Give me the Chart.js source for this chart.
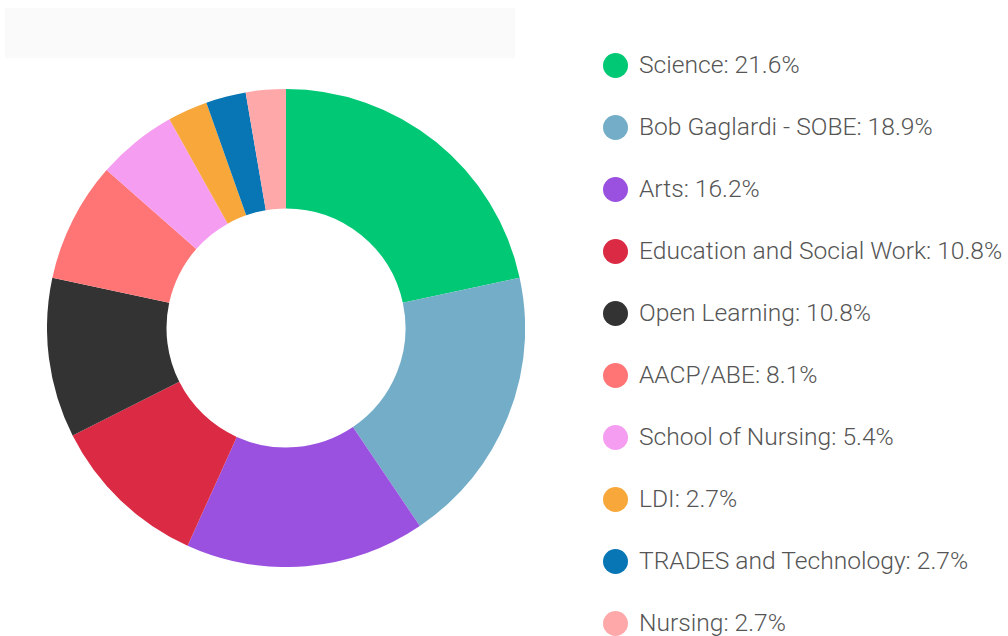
<!DOCTYPE html>
<html>
<head>
<meta charset="utf-8">
<script src="https://cdn.jsdelivr.net/npm/chart.js@4/dist/chart.umd.min.js"></script>
<style>
  html, body { margin: 0; padding: 0; background: #ffffff; width: 1008px; height: 636px; overflow: hidden; }
  #band { position: absolute; left: 5px; top: 8px; width: 510px; height: 50px; background: #fafafa; }
  #wrap { position: absolute; left: 47px; top: 89px; width: 478px; height: 478px; }
  #legend { position: absolute; left: 603px; top: 0; width: 405px; height: 636px; font-family: Roboto, "Noto Sans", sans-serif; }
  .item { position: absolute; left: 0; height: 28px; display: flex; align-items: center; white-space: nowrap; }
  .dot { width: 25px; height: 25px; border-radius: 50%; margin-right: 11px; flex: none; }
  .txt { font-size: 24.6px; color: #555555; font-weight: 300; line-height: 28px; }
</style>
</head>
<body>
<div id="band"></div>
<div id="wrap"><canvas id="c" width="478" height="478"></canvas></div>
<div id="legend"></div>
<script>
const categories = ["Science", "Bob Gaglardi - SOBE", "Arts", "Education and Social Work", "Open Learning", "AACP/ABE", "School of Nursing", "LDI", "TRADES and Technology", "Nursing"];
const shares = [21.6, 18.9, 16.2, 10.8, 10.8, 8.1, 5.4, 2.7, 2.7, 2.7];
const colors = ["#00c875", "#74adc8", "#9b51e0", "#db2a44", "#333333", "#ff7575", "#f59df0", "#f8a73b", "#0876b5", "#ffa8aa"];

const chart = new Chart(document.getElementById("c"), {
  type: "doughnut",
  data: {
    labels: categories,
    datasets: [{ data: shares, backgroundColor: colors, borderWidth: 0, hoverOffset: 0 }]
  },
  options: {
    responsive: false,
    animation: false,
    cutout: "50%",
    layout: { padding: 0 },
    plugins: { legend: { display: false }, tooltip: { enabled: false } }
  }
});

const legend = document.getElementById("legend");
categories.forEach((name, i) => {
  const item = document.createElement("div");
  item.className = "item";
  item.style.top = (65 + i * 62 - 14) + "px";
  const dot = document.createElement("span");
  dot.className = "dot";
  dot.style.background = colors[i];
  const t = document.createElement("span");
  t.className = "txt";
  t.textContent = name + ": " + shares[i].toFixed(1) + "%";
  item.appendChild(dot);
  item.appendChild(t);
  legend.appendChild(item);
});
</script>
</body>
</html>
